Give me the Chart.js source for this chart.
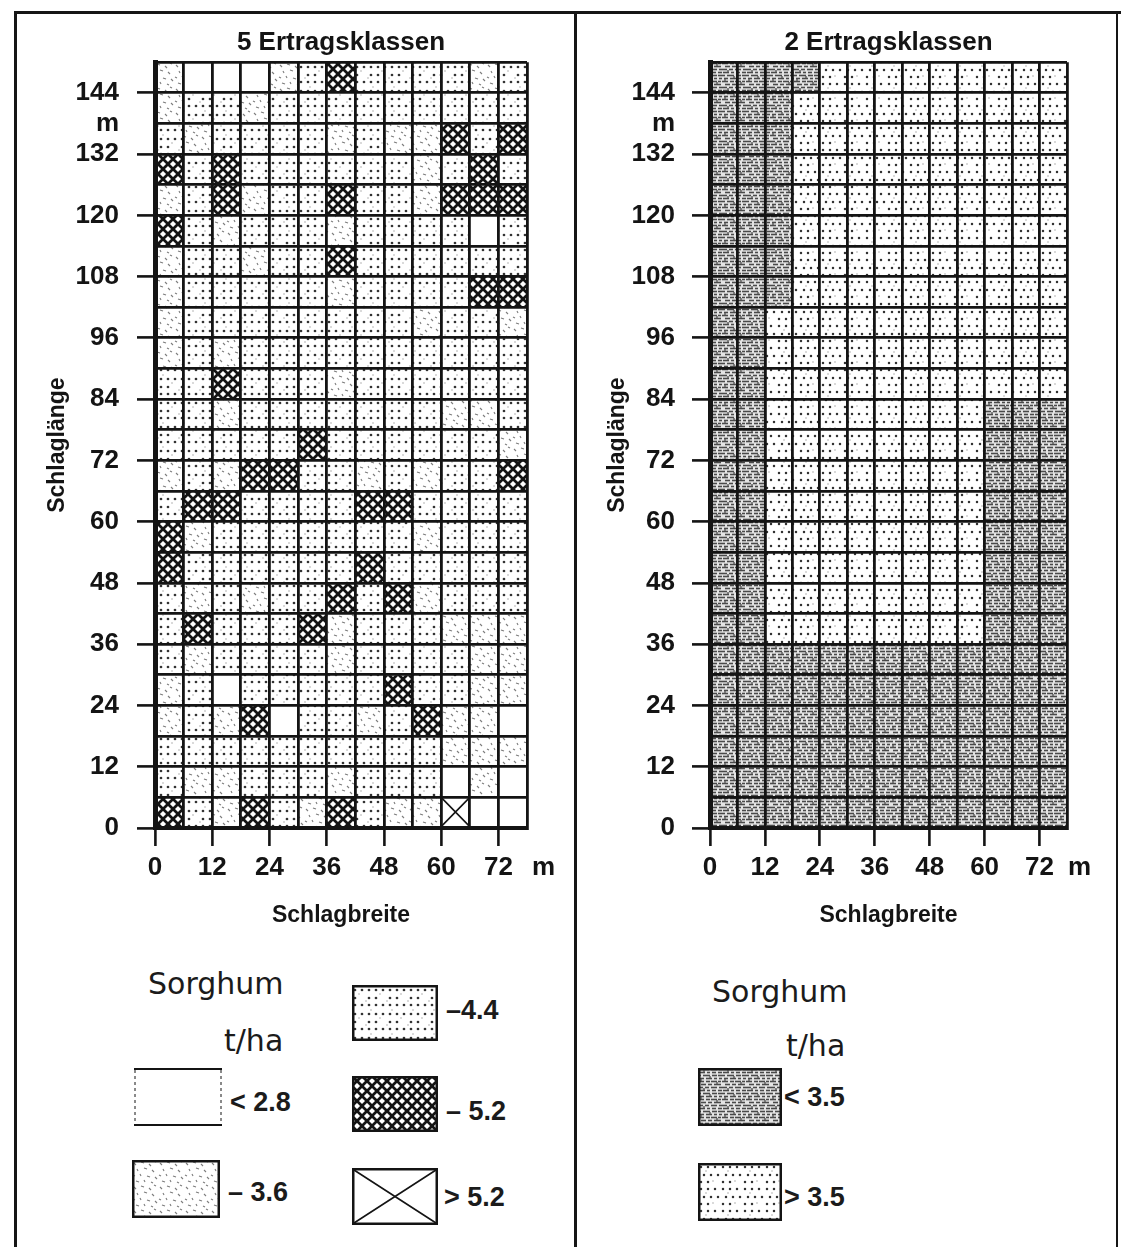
<!DOCTYPE html>
<html>
<head>
<meta charset="utf-8">
<script src="https://cdn.jsdelivr.net/npm/chart.js@4/dist/chart.umd.min.js"></script>
<style>
  body { margin: 0; background: #fff; }
  #wrap { position: relative; width: 1121px; height: 1247px; overflow: hidden; }
  .rule { position: absolute; background: #151515; }
  .panel { position: absolute; }
  .lbl { position: absolute; white-space: nowrap; line-height: 1; color: #1b1b1b; }
  .big { font-family: "DejaVu Sans", sans-serif; font-size: 30px; }
  .num { font-family: "Liberation Sans", Arial, sans-serif; font-weight: bold; font-size: 27px; }
  canvas.sw { position: absolute; }
</style>
</head>
<body>
<div id="wrap">
  <div class="rule" style="left:14px;top:11px;width:1107px;height:3px"></div>
  <div class="rule" style="left:14px;top:11px;width:3px;height:1236px"></div>
  <div class="rule" style="left:574px;top:11px;width:3px;height:1236px"></div>
  <div class="rule" style="left:1116px;top:11px;width:2px;height:1236px"></div>

  <div class="panel" style="left:18px;top:14px"><canvas id="c5" width="555" height="930"></canvas></div>
  <div class="panel" style="left:578px;top:14px"><canvas id="c2" width="538" height="930"></canvas></div>

  <div id="legend"></div>
</div>

<script>
'use strict';

// ── Data ──
const cellSize = 6;                       // m, one cell of the field grid
const colStarts = [0, 6, 12, 18, 24, 30, 36, 42, 48, 54, 60, 66, 72];
const rowStarts = [0, 6, 12, 18, 24, 30, 36, 42, 48, 54, 60, 66, 72,
                   78, 84, 90, 96, 102, 108, 114, 120, 126, 132, 138, 144];
const xTicks = [0, 12, 24, 36, 48, 60, 72];
const yTicks = [0, 12, 24, 36, 48, 60, 72, 84, 96, 108, 120, 132, 144];
const yUnitAt = 138;

// 5 classes: 0 "< 2.8", 1 "– 3.6", 2 "–4.4", 3 "– 5.2", 4 "> 5.2"
const classes5 = ['< 2.8', '– 3.6', '–4.4', '– 5.2', '> 5.2'];
// one string per row, from 144–150 m (top) down to 0–6 m, one digit per column
const grid5 = [
  '1000123222212',
  '1221222222222',
  '2122221211323',
  '3232222221232',
  '1231223221333',
  '3212221222202',
  '1221223222222',
  '1222221222233',
  '1222222221221',
  '1212222222222',
  '2232221222222',
  '2212222222112',
  '2222232222221',
  '1213322121223',
  '2332222332222',
  '3122222221222',
  '3222222322222',
  '2121223231222',
  '2322231222111',
  '2122221222211',
  '1202222232211',
  '1213022123110',
  '2222222222111',
  '2112221222010',
  '3213213211400'
];

// 2 classes: 0 "< 3.5", 1 "> 3.5"
const classes2 = ['< 3.5', '> 3.5'];
const grid2 = [
  '0000111111111',
  '0001111111111',
  '0001111111111',
  '0001111111111',
  '0001111111111',
  '0001111111111',
  '0001111111111',
  '0001111111111',
  '0011111111111',
  '0011111111111',
  '0011111111111',
  '0011111111000',
  '0011111111000',
  '0011111111000',
  '0011111111000',
  '0011111111000',
  '0011111111000',
  '0011111111000',
  '0011111111000',
  '0000000000000',
  '0000000000000',
  '0000000000000',
  '0000000000000',
  '0000000000000',
  '0000000000000'
];

// ── Fill textures ──
const INK = '#141414';

function makeTile(w, h, draw, bg = '#fff') {
  const c = document.createElement('canvas');
  c.width = w; c.height = h;
  const g = c.getContext('2d');
  g.fillStyle = bg;
  g.fillRect(0, 0, w, h);
  draw(g);
  return c;
}

function dotsAt(g, pts, r, col) {
  g.fillStyle = col;
  for (const [x, y] of pts) { g.beginPath(); g.arc(x, y, r, 0, Math.PI * 2); g.fill(); }
}

function strokes(g, segs, lw, col) {
  g.strokeStyle = col; g.lineWidth = lw;
  for (const [a, b, c, d] of segs) { g.beginPath(); g.moveTo(a, b); g.lineTo(c, d); g.stroke(); }
}

const tiles = {
  blank: makeTile(4, 4, () => {}),
  speckle: makeTile(26, 24, g => strokes(g, [
    [2, 3, 4, 5], [9, 2, 12, 3], [17, 4, 19, 6], [22, 1, 24, 2], [5, 9, 6, 11], [12, 8, 15, 9],
    [20, 10, 22, 12], [1, 15, 3, 16], [8, 14, 9, 16], [15, 16, 18, 17], [23, 17, 25, 19],
    [4, 21, 7, 22], [12, 20, 13, 22], [19, 22, 21, 23]
  ], 1.1, '#7d7d7d')),
  dots: makeTile(21, 24, g => {
    dotsAt(g, [[3, 5], [10, 5], [17, 5], [3, 13], [17, 13], [3, 20], [10, 20], [17, 20]], 1.35, '#333');
    dotsAt(g, [[7, 9], [14, 16], [19, 1]], 0.8, '#aaa');
  }),
  cross: makeTile(10, 10, g => {
    g.strokeStyle = INK; g.lineWidth = 2.7;
    for (let k = -1; k <= 1; k++) {
      g.beginPath(); g.moveTo(k * 10, 0); g.lineTo(k * 10 + 10, 10); g.stroke();
      g.beginPath(); g.moveTo(k * 10, 10); g.lineTo(k * 10 + 10, 0); g.stroke();
    }
  }),
  dense: makeTile(24, 18, g => {
    const rows = [
      [1.5, [[0, 5], [7, 4], [13, 6], [21, 3]]],
      [4.5, [[1, 6], [9, 3], [14, 4], [20, 4]]],
      [7.5, [[0, 3], [5, 7], [14, 5], [20, 4]]],
      [10.5, [[2, 4], [8, 6], [16, 3], [21, 3]]],
      [13.5, [[0, 6], [8, 4], [13, 6], [20, 3]]],
      [16.5, [[3, 5], [10, 4], [16, 7]]]
    ];
    const segs = [];
    for (const [y, parts] of rows) for (const [x, l] of parts) segs.push([x, y, x + l, y]);
    strokes(g, segs, 1.6, '#4a4a4a');
    dotsAt(g, [[6, 3], [12, 9], [19, 15], [3, 12]], 0.9, '#555');
  }, '#e4e4e4'),
  dots2: makeTile(22, 22, g => {
    dotsAt(g, [[3, 4], [10, 4], [17, 4], [6, 12], [13, 12], [20, 12], [3, 19], [10, 19]], 1.25, '#333');
    dotsAt(g, [[15, 18], [8, 8]], 0.8, '#aaa');
  })
};

const patCtx = document.createElement('canvas').getContext('2d');
const pat = name => patCtx.createPattern(tiles[name], 'repeat');

const fills5 = ['blank', 'speckle', 'dots', 'cross', 'blank'];
const fills2 = ['dense', 'dots2'];

// ── Build cells ──
function cellsOf(grid, k) {
  const out = [];
  grid.forEach((row, i) => {
    const y0 = rowStarts[rowStarts.length - 1 - i];
    [...row].forEach((ch, j) => {
      if (Number(ch) === k) out.push({ x: colStarts[j] + cellSize / 2, y: [y0, y0 + cellSize] });
    });
  });
  return out;
}

function datasetsFor(grid, labels, fills) {
  return labels.map((label, k) => ({
    label,
    data: cellsOf(grid, k),
    backgroundColor: pat(fills[k]),
    borderWidth: 0,
    grouped: false,
    barPercentage: 1,
    categoryPercentage: 1
  }));
}

// ── Fonts ──
const SANS = '"Liberation Sans", Arial, sans-serif';
const tickFont = { family: SANS, size: 26, weight: 'bold' };
const axisFont = { family: SANS, size: 23, weight: 'bold' };
const titleFont = { family: SANS, size: 26, weight: 'bold' };

const TICK_LEN = 18;
const X_PAD = 6;
const GRID_W = 2.8;

function scalesFor(yWidth, yPad) {
  const tickCol = list => c => list.includes(c.tick.value) ? INK : 'rgba(0,0,0,0)';
  return {
    x: {
      type: 'linear', min: 0, max: colStarts[colStarts.length - 1] + cellSize,
      offset: false,
      afterFit: s => { s.height = 105; },
      grid: { offset: false, color: INK, lineWidth: GRID_W, z: 1, tickLength: TICK_LEN, tickWidth: 2.6,
              tickColor: tickCol(xTicks) },
      border: { color: INK, width: 4, z: 2 },
      ticks: { stepSize: cellSize, maxTicksLimit: 100, autoSkip: false, maxRotation: 0, padding: X_PAD,
               color: INK, font: tickFont,
               callback: v => xTicks.includes(v) ? String(v) : '' },
      title: { display: true, text: 'Schlagbreite', color: INK, font: axisFont, padding: { top: 0, bottom: 4 } }
    },
    y: {
      type: 'linear', min: 0, max: rowStarts[rowStarts.length - 1] + cellSize,
      afterFit: s => { s.width = yWidth; },
      grid: { color: INK, lineWidth: GRID_W, z: 1, tickLength: TICK_LEN, tickWidth: 2.6,
              tickColor: tickCol(yTicks) },
      border: { color: INK, width: 5, z: 2 },
      ticks: { stepSize: cellSize, maxTicksLimit: 100, autoSkip: false, padding: yPad,
               color: INK, font: tickFont,
               callback: v => yTicks.includes(v) ? String(v) : (v === yUnitAt ? 'm' : '') },
      title: { display: true, text: 'Schlaglänge', color: INK, font: axisFont, padding: { top: 12, bottom: 0 } }
    }
  };
}

// Diagonal cross over every cell of one dataset (class "> 5.2")
const crossMarks = {
  id: 'crossMarks',
  afterDatasetsDraw(chart, args, opts) {
    if (opts.dataset == null) return;
    const meta = chart.getDatasetMeta(opts.dataset);
    const c = chart.ctx;
    c.save();
    c.strokeStyle = INK;
    c.lineWidth = 1.6;
    for (const bar of meta.data) {
      const { x, y, base, width } = bar.getProps(['x', 'y', 'base', 'width'], true);
      const l = x - width / 2, r = x + width / 2;
      const t = Math.min(y, base), b = Math.max(y, base);
      c.beginPath();
      c.moveTo(l, t); c.lineTo(r, b);
      c.moveTo(r, t); c.lineTo(l, b);
      c.stroke();
    }
    c.restore();
  }
};

// Unit "m" after the last x tick label
const unitLabel = {
  id: 'unitLabel',
  afterDraw(chart, args, opts) {
    const sx = chart.scales.x;
    const c = chart.ctx;
    const lh = tickFont.size * 1.2;
    c.save();
    c.font = `${tickFont.weight} ${tickFont.size}px ${SANS}`;
    c.fillStyle = INK;
    c.textAlign = 'left';
    c.textBaseline = 'middle';
    c.fillText('m', sx.getPixelForValue(sx.max) + opts.dx, sx.top + TICK_LEN + X_PAD + lh / 2);
    c.restore();
  }
};

function makeChart(id, title, datasets, yWidth, yPad, padRight, crossIndex, dx) {
  return new Chart(document.getElementById(id), {
    type: 'bar',
    data: { datasets },
    plugins: [crossMarks, unitLabel],
    options: {
      responsive: false,
      animation: false,
      events: [],
      layout: { padding: { left: 14, right: padRight, top: 0, bottom: 11 } },
      scales: scalesFor(yWidth, yPad),
      plugins: {
        legend: { display: false },
        tooltip: { enabled: false },
        title: { display: true, text: title, fullSize: false, color: INK, font: titleFont,
                 padding: { top: 13, bottom: 4 } },
        crossMarks: { dataset: crossIndex },
        unitLabel: { dx }
      }
    }
  });
}

makeChart('c5', '5 Ertragsklassen', datasetsFor(grid5, classes5, fills5), 123, 18, 46, 4, 5);
makeChart('c2', '2 Ertragsklassen', datasetsFor(grid2, classes2, fills2), 118, 17, 49, null, 1);

// ── Legends ──
const legendEl = document.getElementById('legend');

function addText(text, cls, left, top) {
  const s = document.createElement('div');
  s.className = 'lbl ' + cls;
  s.style.left = left + 'px';
  s.style.top = top + 'px';
  s.textContent = text;
  legendEl.appendChild(s);
}

function addSwatch(fill, left, top, w, h, opts = {}) {
  const cv = document.createElement('canvas');
  cv.className = 'sw';
  cv.width = w; cv.height = h;
  cv.style.left = left + 'px';
  cv.style.top = top + 'px';
  const g = cv.getContext('2d');
  g.fillStyle = g.createPattern(tiles[fill], 'repeat');
  g.fillRect(2, 2, w - 4, h - 4);
  g.strokeStyle = INK;
  if (opts.openSides) {
    g.lineWidth = 2;
    g.beginPath(); g.moveTo(0, 1); g.lineTo(w, 1); g.moveTo(0, h - 1); g.lineTo(w, h - 1); g.stroke();
    g.lineWidth = 1; g.setLineDash([3, 3]);
    g.beginPath(); g.moveTo(1, 2); g.lineTo(1, h - 2); g.moveTo(w - 1, 2); g.lineTo(w - 1, h - 2); g.stroke();
    g.setLineDash([]);
  } else {
    g.lineWidth = 2.5;
    g.strokeRect(1.25, 1.25, w - 2.5, h - 2.5);
  }
  if (opts.cross) {
    g.lineWidth = 1.6;
    g.beginPath(); g.moveTo(2, 2); g.lineTo(w - 2, h - 2); g.moveTo(w - 2, 2); g.lineTo(2, h - 2); g.stroke();
  }
  legendEl.appendChild(cv);
}

// left panel legend
addText('Sorghum', 'big', 148, 969);
addText('t/ha', 'big', 224, 1026);
addSwatch(fills5[0], 134, 1068, 88, 58, { openSides: true });
addText(classes5[0], 'num', 230, 1089);
addSwatch(fills5[1], 132, 1160, 88, 58);
addText(classes5[1], 'num', 228, 1179);
addSwatch(fills5[2], 352, 985, 86, 56);
addText(classes5[2], 'num', 446, 997);
addSwatch(fills5[3], 352, 1076, 86, 56);
addText(classes5[3], 'num', 446, 1098);
addSwatch(fills5[4], 352, 1168, 86, 57, { cross: true });
addText(classes5[4], 'num', 444, 1184);

// right panel legend
addText('Sorghum', 'big', 712, 977);
addText('t/ha', 'big', 786, 1031);
addSwatch(fills2[0], 698, 1068, 84, 58);
addText(classes2[0], 'num', 784, 1084);
addSwatch(fills2[1], 698, 1163, 84, 58);
addText(classes2[1], 'num', 784, 1184);
</script>
</body>
</html>
